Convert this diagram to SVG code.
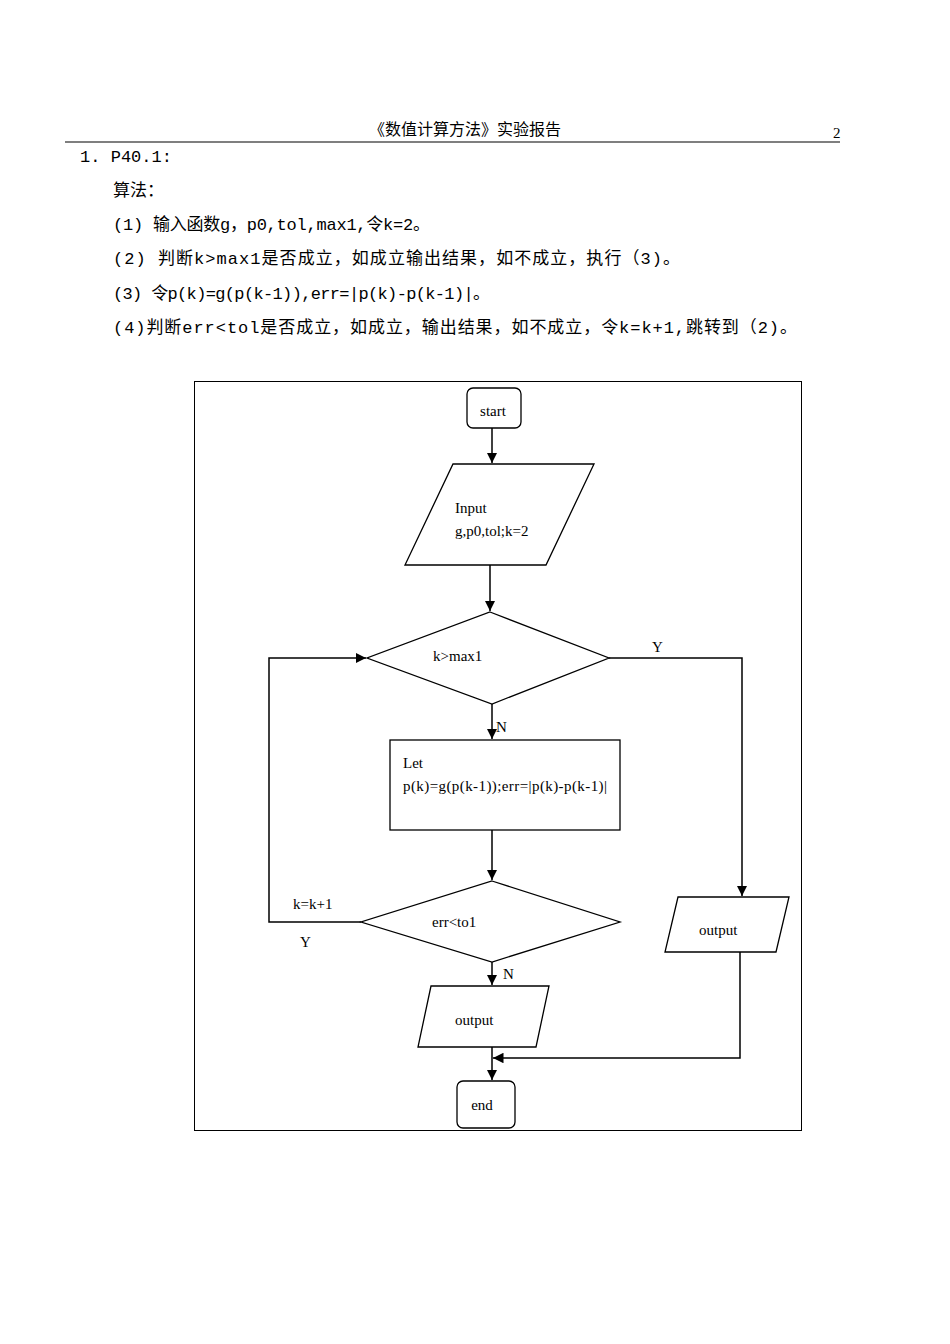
<svg xmlns="http://www.w3.org/2000/svg" width="950" height="1344" viewBox="0 0 950 1344">
<style>
.s{fill:#fff;stroke:#000;stroke-width:1.3}
.c{fill:none;stroke:#000;stroke-width:1.5}
.t{font-family:"Liberation Serif",serif;font-size:15px}
.b{font-family:"Liberation Mono","Noto Sans CJK SC",monospace;font-size:17px}
</style>
<defs><marker id="a" viewBox="0 0 10 10" refX="10" refY="5" markerWidth="7" markerHeight="7" orient="auto"><path d="M0,0L10,5L0,10z"/></marker></defs>
<rect width="950" height="1344" fill="#fff"/>
<text x="465" y="135" text-anchor="middle" style="font-family:'Noto Sans CJK SC',sans-serif;font-size:16px">《数值计算方法》实验报告</text>
<text x="833" y="138" class="t">2</text>
<line x1="65" y1="142" x2="840" y2="142" stroke="#555" stroke-width="1.5"/>
<text x="80" y="162" class="b" textLength="92">1. P40.1:</text>
<text x="113" y="196" class="b">算法：</text>
<text x="113" y="230" class="b" textLength="317">(1) 输入函数g，p0,tol,max1,令k=2。</text>
<text x="113" y="264" class="b" textLength="567">(2) 判断k&gt;max1是否成立，如成立输出结果，如不成立，执行（3)。</text>
<text x="113" y="299" class="b" textLength="377">(3) 令p(k)=g(p(k-1)),err=|p(k)-p(k-1)|。</text>
<text x="113" y="333" class="b" textLength="684">(4)判断err&lt;tol是否成立，如成立，输出结果，如不成立，令k=k+1,跳转到（2)。</text>
<rect x="194.5" y="381.5" width="607" height="749" fill="none" stroke="#000"/>
<g id="connectors" class="c">
<path d="M492 428V463" marker-end="url(#a)"/>
<path d="M490 565V611" marker-end="url(#a)"/>
<path d="M492 704V739" marker-end="url(#a)"/>
<path d="M492 830V880" marker-end="url(#a)"/>
<path d="M492 962V985" marker-end="url(#a)"/>
<path d="M492 1047V1080" marker-end="url(#a)"/>
<path d="M361 922H269V658H366" marker-end="url(#a)"/>
<path d="M609 658H742V896" marker-end="url(#a)"/>
<path d="M740 952V1058H493" marker-end="url(#a)"/>
</g>
<g class="t">
<text x="496" y="732">N</text>
<text x="503" y="979">N</text>
<text x="652" y="652">Y</text>
<text x="293" y="909">k=k+1</text>
<text x="300" y="947">Y</text>
</g>
<g id="start"><rect x="467" y="388" width="54" height="40" rx="6" class="s"/><text x="493" y="416" class="t" text-anchor="middle">start</text></g>
<g id="input"><polygon points="453,464 594,464 546,565 405,565" class="s"/><text x="455" y="513" class="t">Input</text><text x="455" y="536" class="t">g,p0,tol;k=2</text></g>
<g id="d1"><polygon points="490,612 609,658 492,704 367,658" class="s"/><text x="433" y="661" class="t">k&gt;max1</text></g>
<g id="let"><rect x="390" y="740" width="230" height="90" class="s"/><text x="403" y="768" class="t">Let</text><text x="403" y="791" class="t" textLength="204">p(k)=g(p(k-1));err=|p(k)-p(k-1)|</text></g>
<g id="d2"><polygon points="492,881 620,922 492,962 361,922" class="s"/><text x="432" y="927" class="t">err&lt;to1</text></g>
<g id="out1"><polygon points="431,986 549,986 536,1047 418,1047" class="s"/><text x="455" y="1025" class="t">output</text></g>
<g id="out2"><polygon points="678,897 789,897 776,952 665,952" class="s"/><text x="699" y="935" class="t">output</text></g>
<g id="end"><rect x="457" y="1081" width="58" height="47" rx="6" class="s"/><text x="482" y="1110" class="t" text-anchor="middle">end</text></g>
</svg>
